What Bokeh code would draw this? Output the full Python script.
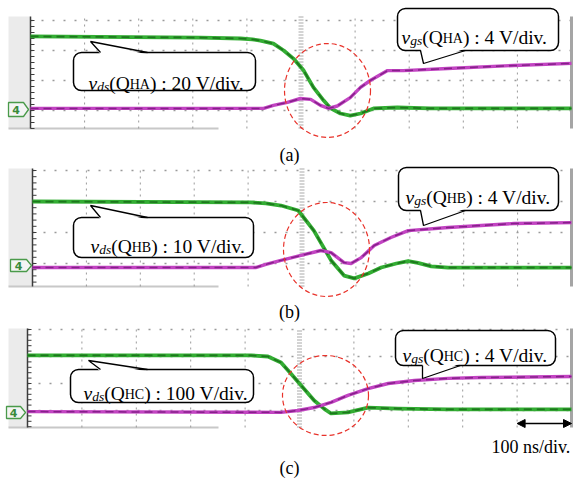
from bokeh.plotting import figure
from bokeh.layouts import column
from bokeh.models import Range1d, BoxAnnotation, Arrow, NormalHead
from bokeh.core.properties import value
from bokeh.embed import file_html
from bokeh.resources import INLINE

# ---------------- data (time in ns, amplitude in scope divisions) ----------------
t_vds_a = [0, 314, 388, 410, 425, 449, 468, 486, 505, 523, 542, 555, 573, 591, 610, 634, 678, 739, 1000]
v_vds_a = [2.47, 2.43, 2.40, 2.37, 2.33, 2.23, 2.00, 1.73, 1.33, 0.77, 0.33, 0.07, -0.10, -0.17, -0.10, 0.07, 0.10, 0.07, 0.07]
t_vgs_a = [0, 431, 449, 475, 499, 518, 536, 551, 567, 591, 610, 628, 660, 689, 771, 893, 1000]
v_vgs_a = [0.07, 0.07, 0.17, 0.27, 0.40, 0.37, 0.17, 0.07, 0.15, 0.43, 0.77, 1.00, 1.33, 1.33, 1.40, 1.50, 1.57]

t_vds_b = [0, 405, 433, 461, 493, 522, 554, 578, 597, 623, 647, 675, 697, 715, 740, 771, 1000]
v_vds_b = [2.00, 1.97, 1.94, 1.87, 1.71, 1.06, 0.10, -0.39, -0.48, -0.32, -0.13, 0.00, 0.08, 0.02, -0.09, -0.13, -0.13]
t_vgs_b = [0, 414, 433, 461, 498, 535, 554, 578, 591, 610, 634, 665, 697, 771, 894, 1000]
v_vgs_b = [-0.13, -0.13, -0.03, 0.10, 0.26, 0.42, 0.35, 0.03, 0.00, 0.19, 0.58, 0.84, 1.06, 1.16, 1.29, 1.32]

t_vds_c = [0, 411, 442, 466, 484, 503, 527, 545, 558, 589, 626, 681, 773, 1000]
v_vds_c = [2.04, 2.04, 2.00, 1.78, 1.37, 0.93, 0.37, 0.07, -0.11, -0.07, 0.11, 0.07, 0.04, 0.04]
t_vgs_c = [0, 466, 497, 527, 558, 589, 626, 663, 711, 773, 834, 1000]
v_vgs_c = [-0.04, -0.07, 0.00, 0.11, 0.30, 0.56, 0.81, 1.00, 1.11, 1.19, 1.22, 1.26]

panel_names = ["(a)", "(b)", "(c)"]
device_names = ["HA", "HB", "HC"]
vds_scales = ["20 V/div.", "10 V/div.", "100 V/div."]
vgs_scales = ["4 V/div.", "4 V/div.", "4 V/div."]
time_scale = "100 ns/div."
channel_tag = "4"

# ---------------- layout (pixels of the page) ----------------
LAYOUT = [
    dict(top=0, h=165, left=30, right=571, y0=110, div=30, ftop=16, fbot=128,
         ell=(327, 90, 43, 47),
         vds_box=(73, 255, 52, 90), vds_tip=(90, 41), vds_base=(100, 147), vds_txt=(88, 83),
         vgs_box=(397, 558, 8, 50), vgs_tip=(423, 63), vgs_base=(420, 465), vgs_txt=(401, 37),
         tag=(8, 102, 23, 116, 28), lab_y=154),
    dict(top=165, h=157, left=32, right=571, y0=263, div=31, ftop=168, fbot=286,
         ell=(326, 249, 43, 47),
         vds_box=(73, 253, 217, 257), vds_tip=(90, 205), vds_base=(100, 147), vds_txt=(90, 246),
         vgs_box=(398, 558, 167, 210), vgs_tip=(423, 225), vgs_base=(420, 465), vgs_txt=(405, 197),
         tag=(10, 259, 26, 271, 31), lab_y=311),
    dict(top=322, h=159, left=27, right=571, y0=410, div=27, ftop=328, fbot=427,
         ell=(325, 395, 43, 40),
         vds_box=(70, 253, 369, 402), vds_tip=(88, 360), vds_base=(100, 147), vds_txt=(83, 393),
         vgs_box=(395, 555, 330, 365), vgs_tip=(422, 378), vgs_base=(422, 460), vgs_txt=(402, 355),
         tag=(6, 406, 20, 418, 25), lab_y=467),
]

W_REG = {' ': 250, '(': 333, ')': 333, ':': 278, '/': 278, '.': 250, 'A': 722, 'B': 667, 'C': 667,
         'H': 722, 'Q': 722, 'V': 722, 'd': 500, 'i': 278, 'v': 500, 'n': 500, 's': 389, 'g': 500}
W_ITA = {'v': 444, 'd': 500, 's': 389, 'g': 500}
SERIF = "Liberation Serif"
MAIN_PX, SUB_PX, DEV_PX = 19.5, 13.5, 14

GREEN, GREEN_D = "#33ad33", "#1d771d"
MAG, MAG_D = "#c244c2", "#86208a"


def text_width(s, size, italic):
    tot = 0
    for ch in s:
        if ch.isdigit():
            tot += 500
        elif italic and ch in W_ITA:
            tot += W_ITA[ch]
        else:
            tot += W_REG.get(ch, 500)
    return tot / 1000.0 * size


def make_panel(i, t_ds, v_ds, t_gs, v_gs):
    L = LAYOUT[i]
    X = lambda px: (px - L["left"]) / (L["right"] - L["left"]) * 1000.0
    Y = lambda py: (L["y0"] - py) / L["div"]
    p = figure(width=577, height=L["h"], output_backend="svg", toolbar_location=None,
               x_range=Range1d(X(0), X(577)), y_range=Range1d(Y(L["top"] + L["h"]), Y(L["top"])),
               min_border=0, min_border_left=0, min_border_right=0, min_border_top=0, min_border_bottom=0,
               x_axis_type=None, y_axis_type=None)
    p.grid.visible = False
    p.outline_line_color = None
    p.background_fill_color = "white"
    p.border_fill_color = "white"

    yt, yb = Y(L["ftop"]), Y(L["fbot"])
    # gray strip at left
    p.quad(left=[X(8)], right=[0], top=[yt], bottom=[yb], fill_color="#ebebeb", line_color=None)
    p.line([X(8), X(218)], [yb, yb], line_color="#c8c8c8", line_width=2)
    # grid
    for k in range(1, 10):
        if k == 5:
            continue
        p.line([k * 100, k * 100], [yb, yt], line_color="#9a9a9a", line_width=1, line_dash="2 4")
    for k in range(0, 4):
        p.line([0, 1000], [k, k], line_color="#9a9a9a", line_width=1.3, line_dash="2 9")
    p.line([500, 500], [yb, yt], line_color="#aaaaaa", line_width=5, line_dash="1 2")
    # left axis with minor ticks, right border
    p.line([0, 0], [yb, yt], line_color="#3c3c3c", line_width=1.5)
    ticks = []
    k = 0
    while -k * 0.2 >= yb - 0.01:
        ticks.append(-k * 0.2)
        k += 1
    k = 1
    while k * 0.2 <= yt:
        ticks.append(k * 0.2)
        k += 1
    p.segment(x0=[0] * len(ticks), x1=[X(L["left"] + 4)] * len(ticks), y0=ticks, y1=ticks,
              line_color="#3c3c3c", line_width=1)
    p.line([1000, 1000], [yb, yt], line_color="#a5a5a5", line_width=3)

    # traces
    p.line(t_ds, v_ds, line_color=GREEN, line_width=3.8, line_join="round")
    p.line(t_ds, v_ds, line_color=GREEN_D, line_width=1.7, line_dash="8 5", line_join="round")
    p.line(t_gs, v_gs, line_color=MAG, line_width=3.4, line_join="round")
    p.line(t_gs, v_gs, line_color=MAG_D, line_width=1.5, line_dash="8 5", line_join="round")

    # channel tag
    x0, ya, x1, yb2, xp = L["tag"]
    ym = (ya + yb2) / 2
    p.patch([X(x0), X(x1), X(xp), X(x1), X(x0)], [Y(ya), Y(ya), Y(ym), Y(yb2), Y(yb2)],
            fill_color="#f4f4f4", line_color="#4a9a4a", line_width=1.3)
    p.text([X((x0 + x1) / 2)], [Y(ym)], text=[channel_tag], text_align="center", text_baseline="middle",
           text_color="#3a8a3a", text_font_size="11px", text_font_style="bold", text_font=value("DejaVu Sans"))

    # red dashed circle
    cx, cy, rx, ry = L["ell"]
    p.ellipse([X(cx)], [Y(cy)], width=[2 * rx / (L["right"] - L["left"]) * 1000], height=[2 * ry / L["div"]],
              fill_color=None, line_color="#e8322a", line_width=1.2, line_dash="5 3")

    # callouts
    def callout(box, tip, base, txt, sub, dev, scale):
        bl, br, bt, bb = box
        p.add_layout(BoxAnnotation(left=X(bl), right=X(br), top=Y(bt), bottom=Y(bb), fill_color="white",
                                   fill_alpha=1.0, line_color="black", line_alpha=1.0, line_width=1.5,
                                   border_radius=8, level="annotation"))
        edge = bt if tip[1] < bt else bb
        inner = edge + 2 if tip[1] < bt else edge - 2
        p.patch([X(base[0]), X(tip[0]), X(base[1])], [Y(inner), Y(tip[1]), Y(inner)],
                fill_color="white", line_color=None, level="overlay")
        p.line([X(base[0]), X(tip[0]), X(base[1])], [Y(edge), Y(tip[1]), Y(edge)],
               line_color="black", line_width=1.3, level="overlay")
        segs = [("v", MAIN_PX, "italic", 0), (sub, SUB_PX, "italic", 3), ("(Q", MAIN_PX, "normal", 0),
                (dev, DEV_PX, "normal", 1), (") : " + scale, MAIN_PX, "normal", 0)]
        x = txt[0]
        for s, size, style, dy in segs:
            p.text([X(x)], [Y(txt[1] + dy)], text=[s], text_align="left", text_baseline="alphabetic",
                   text_font=value(SERIF), text_font_size=f"{size}px", text_font_style=style,
                   text_color="black", level="overlay")
            x += text_width(s, size, style == "italic")

    callout(L["vds_box"], L["vds_tip"], L["vds_base"], L["vds_txt"], "ds", device_names[i], vds_scales[i])
    callout(L["vgs_box"], L["vgs_tip"], L["vgs_base"], L["vgs_txt"], "gs", device_names[i], vgs_scales[i])

    # panel label
    p.text([X(289)], [Y(L["lab_y"])], text=[panel_names[i]], text_align="center", text_baseline="middle",
           text_font=value(SERIF), text_font_size="18px", text_color="black")

    if i == 2:
        yy = Y(423)
        p.add_layout(Arrow(x_start=900, x_end=1000, y_start=yy, y_end=yy, line_width=1.5, line_color="black",
                           start=NormalHead(size=8, fill_color="black", line_color="black"),
                           end=NormalHead(size=8, fill_color="black", line_color="black")))
        p.text([X(491)], [Y(446)], text=[time_scale], text_align="left", text_baseline="alphabetic",
               text_font=value(SERIF), text_font_size="18px", text_color="black")
    return p


pa = make_panel(0, t_vds_a, v_vds_a, t_vgs_a, v_vgs_a)
pb = make_panel(1, t_vds_b, v_vds_b, t_vgs_b, v_vgs_b)
pc = make_panel(2, t_vds_c, v_vds_c, t_vgs_c, v_vgs_c)

layout = column(pa, pb, pc, spacing=0)
open("out.html", "w").write(file_html(layout, INLINE))
